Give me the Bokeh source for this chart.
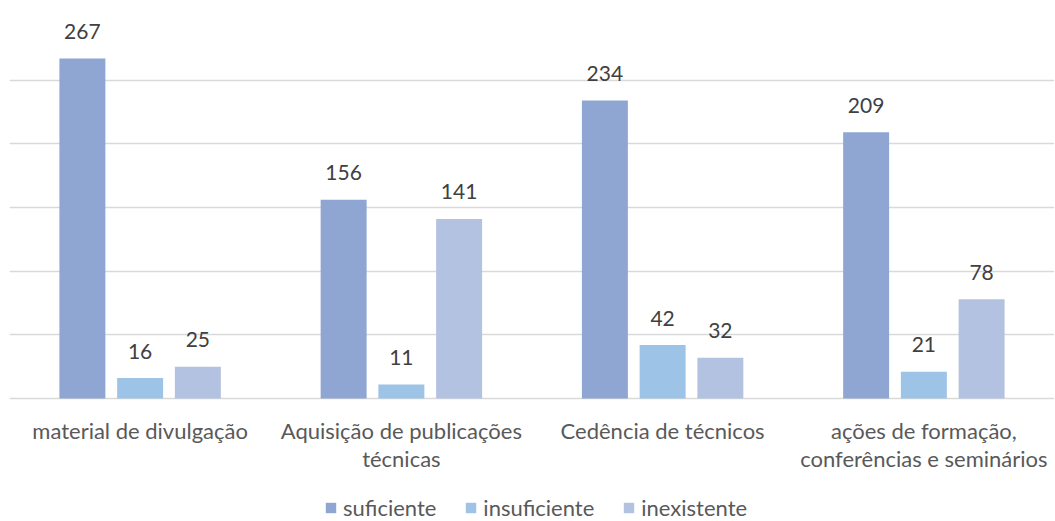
from bokeh.plotting import figure
from bokeh.models import ColumnDataSource, FixedTicker, Legend, LegendItem, LabelSet
from bokeh.core.properties import value
from bokeh.embed import file_html
from bokeh.resources import INLINE

categories = ["material de divulgação", "Aquisição de publicações\ntécnicas",
              "Cedência de técnicos", "ações de formação,\nconferências e seminários"]
series = ["suficiente", "insuficiente", "inexistente"]
suficiente = [267, 156, 234, 209]
insuficiente = [16, 11, 42, 21]
inexistente = [25, 141, 32, 78]
colors = ["#8FA5D2", "#9DC3E6", "#B4C2E2"]

FONT = "Lato"
p = figure(frame_width=1045, frame_height=505, x_range=(0, 4), y_range=(-96.6, 300),
           output_backend="svg", toolbar_location=None,
           min_border_left=9, min_border_right=0, min_border_top=16, min_border_bottom=0)
p.outline_line_color = None
p.yaxis.visible = False
p.xaxis.visible = False
p.xgrid.grid_line_color = None
p.ygrid.ticker = FixedTicker(ticks=[0, 50, 100, 150, 200, 250, 300])
p.ygrid.grid_line_color = "#D9D9D9"
p.ygrid.grid_line_width = 1.5

offsets = [-0.221, 0.0, 0.221]
items = []
for s, vals, off, c in zip(series, [suficiente, insuficiente, inexistente], offsets, colors):
    src = ColumnDataSource(dict(x=[i + 0.5 + off for i in range(4)], top=vals,
                                lab=[str(v) for v in vals]))
    r = p.vbar(x="x", top="top", width=0.176, bottom=0, source=src, fill_color=c, line_color=None)
    items.append(LegendItem(label=s, renderers=[r]))
    p.add_layout(LabelSet(x="x", y="top", text="lab", source=src, y_offset=27,
                          text_align="center", text_baseline="middle",
                          text_font=value(FONT), text_font_size="21px", text_color="#404040"))

# category labels, one LabelSet per text line so each line is centred
split = [c.split("\n") for c in categories]
for line_no, yoff in [(0, -19), (1, -47)]:
    xs, labs = [], []
    for i, parts in enumerate(split):
        if len(parts) > line_no:
            xs.append(i + 0.5)
            labs.append(parts[line_no])
    src = ColumnDataSource(dict(x=xs, y=[0] * len(xs), lab=labs))
    p.add_layout(LabelSet(x="x", y="y", text="lab", source=src, y_offset=yoff,
                          text_align="center", text_baseline="top",
                          text_font=value(FONT), text_font_size="22px", text_color="#595959"))

legend = Legend(items=items, orientation="horizontal", location=(315, 0),
                label_text_font=FONT, label_text_font_size="22px", label_text_color="#595959",
                glyph_width=13, glyph_height=13, spacing=28, label_standoff=6,
                border_line_color=None, background_fill_alpha=0, margin=0, padding=0)
p.add_layout(legend, "center")

open("out.html", "w").write(file_html(p, INLINE))
